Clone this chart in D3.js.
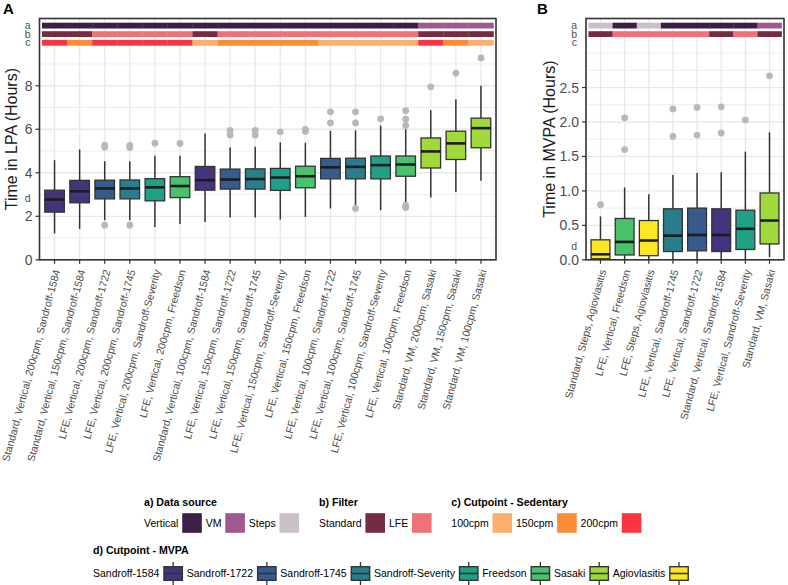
<!DOCTYPE html>
<html><head><meta charset="utf-8">
<script src="https://cdn.jsdelivr.net/npm/d3@7"></script>
<style>
body{margin:0;background:#fff}
text{font-family:"Liberation Sans",Arial,Helvetica,sans-serif}
</style>
</head><body>
<svg id="chart" width="788" height="585"></svg>
<script>
// ---------------- DATA ----------------
const lpaCategories = [
  "Standard, Vertical, 200cpm, Sandroff-1584",
  "Standard, Vertical, 150cpm, Sandroff-1584",
  "LFE, Vertical, 200cpm, Sandroff-1722",
  "LFE, Vertical, 200cpm, Sandroff-1745",
  "LFE, Vertical, 200cpm, Sandroff-Severity",
  "LFE, Vertical, 200cpm, Freedson",
  "Standard, Vertical, 100cpm, Sandroff-1584",
  "LFE, Vertical, 150cpm, Sandroff-1722",
  "LFE, Vertical, 150cpm, Sandroff-1745",
  "LFE, Vertical, 150cpm, Sandroff-Severity",
  "LFE, Vertical, 150cpm, Freedson",
  "LFE, Vertical, 100cpm, Sandroff-1722",
  "LFE, Vertical, 100cpm, Sandroff-1745",
  "LFE, Vertical, 100cpm, Sandroff-Severity",
  "LFE, Vertical, 100cpm, Freedson",
  "Standard, VM, 200cpm, Sasaki",
  "Standard, VM, 150cpm, Sasaki",
  "Standard, VM, 100cpm, Sasaki"
];
const lpaSource = ["Vertical","Vertical","Vertical","Vertical","Vertical","Vertical","Vertical","Vertical","Vertical","Vertical","Vertical","Vertical","Vertical","Vertical","Vertical","VM","VM","VM"];
const lpaFilter = ["Standard","Standard","LFE","LFE","LFE","LFE","Standard","LFE","LFE","LFE","LFE","LFE","LFE","LFE","LFE","Standard","Standard","Standard"];
const lpaSedentary = ["200cpm","150cpm","200cpm","200cpm","200cpm","200cpm","100cpm","150cpm","150cpm","150cpm","150cpm","100cpm","100cpm","100cpm","100cpm","200cpm","150cpm","100cpm"];
const lpaMvpaCut = ["Sandroff-1584","Sandroff-1584","Sandroff-1722","Sandroff-1745","Sandroff-Severity","Freedson","Sandroff-1584","Sandroff-1722","Sandroff-1745","Sandroff-Severity","Freedson","Sandroff-1722","Sandroff-1745","Sandroff-Severity","Freedson","Sasaki","Sasaki","Sasaki"];
const lpaLowerWhisker = [1.21,1.42,1.82,1.82,1.51,1.64,1.74,1.94,1.94,1.85,1.97,2.36,2.50,2.28,2.58,2.86,3.12,3.63];
const lpaQ1           = [2.19,2.62,2.80,2.80,2.71,2.86,3.20,3.25,3.25,3.19,3.31,3.72,3.72,3.72,3.84,4.22,4.61,5.15];
const lpaMedian       = [2.77,3.15,3.28,3.28,3.33,3.39,3.66,3.69,3.71,3.78,3.84,4.25,4.27,4.35,4.38,4.98,5.35,6.05];
const lpaQ3           = [3.20,3.65,3.66,3.67,3.73,3.82,4.29,4.17,4.18,4.20,4.30,4.66,4.67,4.77,4.77,5.60,5.91,6.51];
const lpaUpperWhisker = [4.58,5.07,4.53,4.53,4.78,4.78,5.80,5.16,5.19,5.39,5.38,5.93,5.95,6.17,6.00,6.87,7.38,8.00];
const lpaOutliers = [[],[],[5.27,5.17,1.59],[5.26,5.16,1.59],[5.36],[5.35],[],[5.95,5.73],[5.95,5.73],[5.88],[5.99,5.90],[6.80,6.29],[6.80,6.29,2.36],[6.48],[6.85,6.46,6.17,2.50,2.40],[7.95],[8.58],[9.28]];

const mvpaCategories = [
  "Standard, Steps, Agiovlasitis",
  "LFE, Vertical, Freedson",
  "LFE, Steps, Agiovlasitis",
  "LFE, Vertical, Sandroff-1745",
  "LFE, Vertical, Sandroff-1722",
  "Standard, Vertical, Sandroff-1584",
  "LFE, Vertical, Sandroff-Severity",
  "Standard, VM, Sasaki"
];
const mvpaSource = ["Steps","Vertical","Steps","Vertical","Vertical","Vertical","Vertical","VM"];
const mvpaFilter = ["Standard","LFE","LFE","LFE","LFE","Standard","LFE","Standard"];
const mvpaMvpaCut = ["Agiovlasitis","Freedson","Agiovlasitis","Sandroff-1745","Sandroff-1722","Sandroff-1584","Sandroff-Severity","Sasaki"];
const mvpaLowerWhisker = [0,0,0,0,0,0,0,0.04];
const mvpaQ1           = [0.015,0.07,0.06,0.12,0.13,0.12,0.15,0.23];
const mvpaMedian       = [0.08,0.26,0.28,0.35,0.36,0.36,0.45,0.57];
const mvpaQ3           = [0.29,0.60,0.57,0.74,0.75,0.74,0.72,0.97];
const mvpaUpperWhisker = [0.63,1.05,0.95,1.23,1.26,1.27,1.57,1.85];
const mvpaOutliers = [[0.80],[2.06,1.60],[],[2.19,1.79],[2.21,1.81],[2.22,1.84],[2.03],[2.67]];

const lpaTicks = [0,2,4,6,8];
const lpaMinor = [1,3,5,7,9];
const mvpaTicks = [0,0.5,1,1.5,2,2.5];
const mvpaMinor = [0.25,0.75,1.25,1.75,2.25,2.75,3.0];

const sourceLevels = ["Vertical","VM","Steps"];
const filterLevels = ["Standard","LFE"];
const sedentaryLevels = ["100cpm","150cpm","200cpm"];
const mvpaLevels = ["Sandroff-1584","Sandroff-1722","Sandroff-1745","Sandroff-Severity","Freedson","Sasaki","Agiovlasitis"];

// ---------------- STYLE ----------------
const sourceColor = d3.scaleOrdinal().domain(sourceLevels).range(["#3c1f45","#a1578f","#cbbfcb"]);
const filterColor = d3.scaleOrdinal().domain(filterLevels).range(["#752c43","#f07178"]);
const sedColor = d3.scaleOrdinal().domain(sedentaryLevels).range(["#fdaf6e","#fd8c38","#f9363f"]);
const mvpaColor = d3.scaleOrdinal().domain(mvpaLevels).range(["#46337e","#365c8d","#277f8e","#1fa187","#4ac16d","#9fda3a","#fde725"]);

const svg = d3.select("#chart");
const TOP = 18.5, BOTTOM = 259.8;
const gridCol = "#e8e8e8", darkCol = "#333333", tickTextCol = "#4d4d4d";

function drawPanel(opts) {
  const {left, right, cats, ymax, ticks, minor, tickFmt, annots, lw, q1, med, q3, uw, outs, cuts, ytitle, dY, letter, letterX} = opts;
  const x = d3.scalePoint().domain(cats).range([left, right]).padding(0.6);
  const step = x.step();
  const y = d3.scaleLinear().domain([0, ymax]).range([BOTTOM, TOP]);
  const g = svg.append("g");
  g.append("rect").attr("x", left).attr("y", TOP).attr("width", right-left).attr("height", BOTTOM-TOP).attr("fill", "#fff");
  // grid
  g.selectAll(".gmin").data(minor).join("line")
    .attr("x1", left).attr("x2", right).attr("y1", d=>y(d)).attr("y2", d=>y(d))
    .attr("stroke", gridCol).attr("stroke-width", 0.8);
  g.selectAll(".gmaj").data(ticks).join("line")
    .attr("x1", left).attr("x2", right).attr("y1", d=>y(d)).attr("y2", d=>y(d))
    .attr("stroke", gridCol).attr("stroke-width", 1.3);
  g.selectAll(".gv").data(cats).join("line")
    .attr("x1", d=>x(d)).attr("x2", d=>x(d)).attr("y1", TOP).attr("y2", BOTTOM)
    .attr("stroke", gridCol).attr("stroke-width", 1.3);
  // annotation bars
  const rowTop = [22.7, 31.2, 39.9], rowH = 5.8;
  annots.forEach((a, r) => {
    if (!a) return;
    g.selectAll(null).data(cats).join("rect")
      .attr("x", d=>x(d)-step/2).attr("width", step+0.3)
      .attr("y", rowTop[r]).attr("height", rowH)
      .attr("fill", (d,i)=>a.color(a.values[i]));
  });
  // boxes
  const bw = step*0.78;
  cats.forEach((c, i) => {
    const cx = x(c);
    g.append("line").attr("x1", cx).attr("x2", cx).attr("y1", y(q3[i])).attr("y2", y(uw[i]))
      .attr("stroke", darkCol).attr("stroke-width", 1.5);
    g.append("line").attr("x1", cx).attr("x2", cx).attr("y1", y(q1[i])).attr("y2", y(lw[i]))
      .attr("stroke", darkCol).attr("stroke-width", 1.5);
    g.append("rect").attr("x", cx-bw/2).attr("width", bw).attr("y", y(q3[i])).attr("height", y(q1[i])-y(q3[i]))
      .attr("fill", mvpaColor(cuts[i])).attr("stroke", darkCol).attr("stroke-width", 1.3);
    g.append("line").attr("x1", cx-bw/2).attr("x2", cx+bw/2).attr("y1", y(med[i])).attr("y2", y(med[i]))
      .attr("stroke", "#1c1c1c").attr("stroke-width", 2.6);
    g.selectAll(null).data(outs[i]).join("circle")
      .attr("cx", cx).attr("cy", d=>y(d)).attr("r", 3.4).attr("fill", "#b8b8b8");
  });
  // border
  g.append("rect").attr("x", left).attr("y", TOP).attr("width", right-left).attr("height", BOTTOM-TOP)
    .attr("fill", "none").attr("stroke", darkCol).attr("stroke-width", 1.6);
  // y ticks
  g.selectAll(".yt").data(ticks).join("line")
    .attr("x1", left-4).attr("x2", left).attr("y1", d=>y(d)).attr("y2", d=>y(d))
    .attr("stroke", darkCol).attr("stroke-width", 1.2);
  g.selectAll(".ytl").data(ticks).join("text")
    .attr("x", left-7).attr("y", d=>y(d)).attr("dy", "0.36em").attr("text-anchor", "end")
    .attr("font-size", 14).attr("fill", tickTextCol).text(tickFmt);
  // a b c d labels
  const rowLbl = ["a","b","c"];
  rowLbl.forEach((t, r) => {
    g.append("text").attr("x", letterX).attr("y", rowTop[r] + rowH/2).attr("dy", "0.33em")
      .attr("text-anchor", "end").attr("font-size", 10.5).attr("fill", tickTextCol).text(t);
  });
  g.append("text").attr("x", letterX).attr("y", y(dY)).attr("dy", "0.36em")
    .attr("text-anchor", "end").attr("font-size", 10.5).attr("fill", tickTextCol).text("d");
  // x ticks
  g.selectAll(".xt").data(cats).join("line")
    .attr("x1", d=>x(d)).attr("x2", d=>x(d)).attr("y1", BOTTOM).attr("y2", BOTTOM+4)
    .attr("stroke", darkCol).attr("stroke-width", 1.2);
  g.selectAll(".xtl").data(cats).join("text")
    .attr("transform", d=>`translate(${x(d)-1.5},${BOTTOM+9}) rotate(-75)`)
    .attr("dy", "0.72em").attr("text-anchor", "end")
    .attr("font-size", 10.5).attr("fill", tickTextCol).text(d=>d);
  // y title
  g.append("text").attr("transform", `translate(${opts.ytitleX},${(TOP+BOTTOM)/2}) rotate(-90)`)
    .attr("text-anchor", "middle").attr("font-size", 16).attr("fill", "#1a1a1a").text(ytitle);
  // panel letter
  svg.append("text").attr("x", opts.letterPos[0]).attr("y", opts.letterPos[1])
    .attr("font-size", 15).attr("font-weight", "bold").attr("fill", "#000").text(letter);
}

drawPanel({
  left: 39.5, right: 496, cats: lpaCategories, ymax: 11.09,
  ticks: lpaTicks, minor: lpaMinor, tickFmt: d=>d3.format("d")(d),
  annots: [{values: lpaSource, color: sourceColor},{values: lpaFilter, color: filterColor},{values: lpaSedentary, color: sedColor}],
  lw: lpaLowerWhisker, q1: lpaQ1, med: lpaMedian, q3: lpaQ3, uw: lpaUpperWhisker, outs: lpaOutliers, cuts: lpaMvpaCut,
  ytitle: "Time in LPA (Hours)", ytitleX: 17, dY: 2.85, letter: "A", letterPos: [3, 13.5], letterX: 30.5
});
drawPanel({
  left: 586, right: 784, cats: mvpaCategories, ymax: 3.502,
  ticks: mvpaTicks, minor: mvpaMinor, tickFmt: d=>d3.format(".1f")(d),
  annots: [{values: mvpaSource, color: sourceColor},{values: mvpaFilter, color: filterColor}, null],
  lw: mvpaLowerWhisker, q1: mvpaQ1, med: mvpaMedian, q3: mvpaQ3, uw: mvpaUpperWhisker, outs: mvpaOutliers, cuts: mvpaMvpaCut,
  ytitle: "Time in MVPA (Hours)", ytitleX: 555, dY: 0.19, letter: "B", letterPos: [537, 13.5], letterX: 577
});

// ---------------- LEGENDS ----------------
const LFS = 10.5;
function legendGroup(title, levels, colorFn, x0, titleY, keyY, boxKey) {
  const g = svg.append("g");
  g.append("text").attr("x", x0).attr("y", titleY).attr("font-size", 10.6).attr("font-weight", "bold")
    .attr("fill", "#000").text(title);
  let cx = x0;
  levels.forEach(l => {
    const t = g.append("text").attr("x", cx).attr("y", keyY).attr("dy", "0.35em")
      .attr("font-size", LFS).attr("fill", "#000").text(l);
    const w = t.node().getComputedTextLength();
    const sx = cx + w + 3.8;
    if (boxKey) {
      const mid = sx + 10;
      g.append("line").attr("x1", mid).attr("x2", mid).attr("y1", keyY-11.5).attr("y2", keyY+11.5)
        .attr("stroke", darkCol).attr("stroke-width", 1.3);
      g.append("rect").attr("x", sx+0.8).attr("y", keyY-6.8).attr("width", 18.4).attr("height", 13.6)
        .attr("fill", colorFn(l)).attr("stroke", darkCol).attr("stroke-width", 1.4);
      g.append("line").attr("x1", sx+0.8).attr("x2", sx+19.2).attr("y1", keyY).attr("y2", keyY)
        .attr("stroke", darkCol).attr("stroke-width", 1.6);
    } else {
      g.append("rect").attr("x", sx).attr("y", keyY-9.8).attr("width", 19.6).attr("height", 19.6)
        .attr("fill", colorFn(l));
    }
    cx = sx + 20 + 3.5;
  });
}
legendGroup("a) Data source", sourceLevels, sourceColor, 144, 505.5, 523, false);
legendGroup("b) Filter", filterLevels, filterColor, 319, 505.5, 523, false);
legendGroup("c) Cutpoint - Sedentary", sedentaryLevels, sedColor, 451.3, 505.5, 523, false);
legendGroup("d) Cutpoint - MVPA", mvpaLevels, mvpaColor, 93, 554, 573.5, true);
</script>
</body></html>
